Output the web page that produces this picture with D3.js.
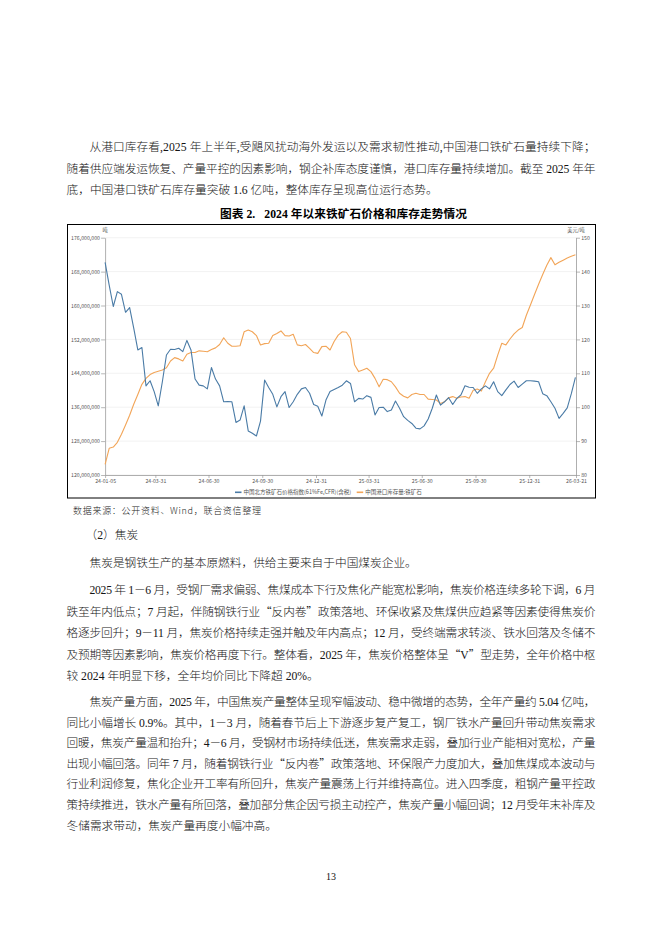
<!DOCTYPE html>
<html><head><meta charset="utf-8">
<script src="https://cdn.jsdelivr.net/npm/d3@7"></script>
<style>
html,body{margin:0;padding:0;background:#fff;}
svg{display:block;}
text{white-space:pre;}
</style></head>
<body>
<svg id="page" width="662" height="936"></svg>
<script>
// ---------------- DATA ----------------
const dates = [
"24-01-05","24-01-12","24-01-19","24-01-26","24-02-02","24-02-09","24-02-16","24-02-23",
"24-03-01","24-03-08","24-03-15","24-03-22","24-03-29","24-04-05","24-04-12","24-04-19","24-04-26",
"24-05-03","24-05-10","24-05-17","24-05-24","24-05-31","24-06-07","24-06-14","24-06-21","24-06-28",
"24-07-05","24-07-12","24-07-19","24-07-26","24-08-02","24-08-09","24-08-16","24-08-23","24-08-30",
"24-09-06","24-09-13","24-09-20","24-09-27","24-10-04","24-10-11","24-10-18","24-10-25",
"24-11-01","24-11-08","24-11-15","24-11-22","24-11-29","24-12-06","24-12-13","24-12-20","24-12-27",
"25-01-03","25-01-10","25-01-17","25-01-24","25-01-31","25-02-07","25-02-14","25-02-21","25-02-28",
"25-03-07","25-03-14","25-03-21","25-03-28","25-04-04","25-04-11","25-04-18","25-04-25",
"25-05-02","25-05-09","25-05-16","25-05-23","25-05-30","25-06-06","25-06-13","25-06-20","25-06-27",
"25-07-04","25-07-11","25-07-18","25-07-25","25-08-01","25-08-08","25-08-15","25-08-22","25-08-29",
"25-09-05","25-09-12","25-09-19","25-09-26","25-10-03","25-10-10","25-10-17","25-10-24","25-10-31",
"25-11-07","25-11-14","25-11-21","25-11-28","25-12-05","25-12-12","25-12-19","25-12-26",
"26-01-02","26-01-09","26-01-16","26-01-23","26-01-30","26-02-06","26-02-13","26-02-20","26-02-27",
"26-03-06","26-03-13","26-03-20"];

// 中国北方铁矿石价格指数 (美元/吨, right axis)
const priceIndex = [
142.7,136.0,129.7,134.1,133.3,128.0,129.4,123.3,116.9,117.6,
106.3,107.8,104.6,100.4,107.5,115.4,117.1,117.0,117.4,116.4,
119.7,116.9,108.3,106.5,106.3,105.4,111.7,108.3,106.3,101.6,
101.7,101.6,95.5,96.2,100.4,93.0,92.3,91.5,95.9,108.0,
105.8,103.8,100.1,103.1,104.6,99.9,101.6,103.8,105.4,105.8,
104.1,100.8,100.3,97.4,102.1,104.6,105.2,105.8,106.5,107.8,
107.0,101.6,102.6,102.4,103.4,102.9,97.7,99.9,100.0,98.7,
99.2,101.8,99.7,97.2,96.1,95.2,93.8,93.6,94.5,96.5,
99.7,103.6,100.6,101.6,102.8,100.8,102.6,103.6,106.3,105.9,
105.8,104.1,105.4,106.3,105.4,107.5,104.6,103.4,105.1,106.7,
107.7,105.8,106.8,107.8,107.8,107.7,107.5,104.0,103.4,101.6,
99.7,96.7,98.2,99.8,104.0,108.8];

// 中国港口库存量:铁矿石 (百万吨, left axis in 吨)
const portStock = [
122.5,126.3,126.6,127.7,129.6,131.8,134.1,136.7,139.0,141.4,
142.8,143.7,144.2,144.5,144.8,145.3,146.9,147.7,147.4,146.9,
148.5,148.9,148.9,149.3,149.2,149.1,149.6,150.0,150.8,152.4,
151.1,150.4,150.4,150.5,153.8,154.2,153.8,152.9,150.7,151.0,
151.1,152.9,153.4,154.0,152.9,152.8,153.2,150.7,150.5,150.8,
149.9,148.9,148.7,150.3,150.4,149.5,151.5,153.0,153.8,153.7,
152.2,146.0,144.4,144.8,145.2,144.4,142.8,140.8,142.6,142.5,
142.0,140.8,139.3,138.6,138.2,139.0,139.3,139.0,139.0,137.9,
137.8,137.7,136.9,137.3,138.2,138.5,138.1,138.4,138.5,138.1,
140.0,140.3,139.8,142.0,144.0,145.2,148.3,151.1,150.7,152.1,
153.3,154.2,154.8,157.7,160.1,162.6,165.0,167.3,169.5,171.3,
169.6,170.2,170.7,171.2,171.6,172.0];

const leftTicks = [120000000,128000000,136000000,144000000,152000000,160000000,168000000,176000000];
const rightTicks = [80,90,100,110,120,130,140,150];
const xTickLabels = ["24-01-05","24-03-31","24-06-30","24-09-30","24-12-31","25-03-31","25-06-30","25-09-30","25-12-31","26-03-21"];
const seriesNames = ["中国北方铁矿石价格指数(61%Fe,CFR)(含税)","中国港口库存量:铁矿石"];
const seriesColors = ["#4a7ba6","#f2a558"];

// ---------------- PAGE TEXT ----------------
const svg = d3.select("#page");
svg.append("rect").attr("width",662).attr("height",936).attr("fill","#fff");

const BODY = "'Liberation Serif','Noto Sans CJK SC',serif";
const CJK = "'Noto Sans CJK SC',sans-serif";
const FS = 11.7;
const L = 66.5, R = 595.5, IND = 89.5;

// [text, x, baselineY, justify]
const lines = [
 ["从港口库存看,2025 年上半年,受飓风扰动海外发运以及需求韧性推动,中国港口铁矿石量持续下降；", IND, 151, true],
 ["随着供应端发运恢复、产量平控的因素影响，钢企补库态度谨慎，港口库存量持续增加。截至 2025 年年", L, 172.5, true],
 ["底，中国港口铁矿石库存量突破 1.6 亿吨，整体库存呈现高位运行态势。", L, 194, false],
 ["（2）焦炭", IND-4, 539, false],
 ["焦炭是钢铁生产的基本原燃料，供给主要来自于中国煤炭企业。", IND, 566.5, false],
 ["2025 年 1－6 月，受钢厂需求偏弱、焦煤成本下行及焦化产能宽松影响，焦炭价格连续多轮下调，6 月", IND, 594, true],
 ["跌至年内低点；7 月起，伴随钢铁行业“反内卷”政策落地、环保收紧及焦煤供应趋紧等因素使得焦炭价", L, 615.5, true],
 ["格逐步回升；9－11 月，焦炭价格持续走强并触及年内高点；12 月，受终端需求转淡、铁水回落及冬储不", L, 637, true],
 ["及预期等因素影响，焦炭价格再度下行。整体看，2025 年，焦炭价格整体呈“V”型走势，全年价格中枢", L, 658.5, true],
 ["较 2024 年明显下移，全年均价同比下降超 20%。", L, 680, false],
 ["焦炭产量方面，2025 年，中国焦炭产量整体呈现窄幅波动、稳中微增的态势，全年产量约 5.04 亿吨，", IND, 706, true],
 ["同比小幅增长 0.9%。其中，1－3 月，随着春节后上下游逐步复产复工，钢厂铁水产量回升带动焦炭需求", L, 726.6, true],
 ["回暖，焦炭产量温和抬升；4－6 月，受钢材市场持续低迷，焦炭需求走弱，叠加行业产能相对宽松，产量", L, 747.2, true],
 ["出现小幅回落。同年 7 月，随着钢铁行业“反内卷”政策落地、环保限产力度加大，叠加焦煤成本波动与", L, 767.8, true],
 ["行业利润修复，焦化企业开工率有所回升，焦炭产量震荡上行并维持高位。进入四季度，粗钢产量平控政", L, 788.4, true],
 ["策持续推进，铁水产量有所回落，叠加部分焦企因亏损主动控产，焦炭产量小幅回调；12 月受年末补库及", L, 809, true],
 ["冬储需求带动，焦炭产量再度小幅冲高。", L, 829.6, false]
];
lines.forEach(([t, x, y, j]) => {
  const el = svg.append("text").attr("x", x).attr("y", y)
    .attr("font-family", BODY).attr("font-size", FS).attr("font-weight", 300).attr("fill", "#141414");
  // curly quotes rendered with the CJK face (full width), the rest with the body face
  t.split(/([“”])/).forEach(part => {
    if (!part) return;
    const ts = el.append("tspan").text(part);
    if (part === "“" || part === "”") ts.attr("font-family", CJK);
  });
  if (j) el.attr("textLength", R - x).attr("lengthAdjust", "spacing");
});

// title
svg.append("text").attr("x", 220).attr("y", 217.5)
  .attr("font-family", BODY).attr("font-size", FS).attr("font-weight", "bold").attr("fill", "#000")
  .attr("textLength", 247).attr("lengthAdjust", "spacing")
  .text("图表 2.   2024 年以来铁矿石价格和库存走势情况");

// source
svg.append("text").attr("x", 73).attr("y", 513.5)
  .attr("font-family", CJK).attr("font-size", 9).attr("font-weight", 300).attr("fill", "#222")
  .attr("textLength", 188).attr("lengthAdjust", "spacing")
  .text("数据来源：公开资料、Wind，联合资信整理");

// page number
svg.append("text").attr("x", 331).attr("y", 879.5).attr("text-anchor", "middle")
  .attr("font-family", BODY).attr("font-size", 10).attr("fill", "#111").text("13");

// ---------------- CHART ----------------
svg.append("rect").attr("x", 67.5).attr("y", 224.5).attr("width", 528).attr("height", 273.5)
  .attr("fill", "none").attr("stroke", "#000").attr("stroke-width", 1);

const parse = d3.timeParse("%y-%m-%d");
const fmt = d3.timeFormat("%y-%m-%d");
const X0 = 105.1, X1 = 576, YT = 237.7, YB = 475;
const x = d3.scaleTime().domain([parse(xTickLabels[0]), parse(xTickLabels[xTickLabels.length-1])]).range([X0, X1]);
const yL = d3.scaleLinear().domain([leftTicks[0], leftTicks[leftTicks.length-1]]).range([YB, YT]);
const yR = d3.scaleLinear().domain([rightTicks[0], rightTicks[rightTicks.length-1]]).range([YB, YT]);

const CF = "'Noto Sans CJK SC','Liberation Sans',sans-serif";
const g = svg.append("g");

// gridlines
g.selectAll("line.grid").data(leftTicks).join("line").attr("class","grid")
  .attr("x1", X0).attr("x2", X1).attr("y1", d => yL(d)).attr("y2", d => yL(d))
  .attr("stroke", "#ececec").attr("stroke-width", 0.7);

function styleAxis(sel) {
  sel.select(".domain").attr("stroke", "#9a9a9a").attr("stroke-width", 0.8);
  sel.selectAll(".tick line").attr("stroke", "#9a9a9a").attr("stroke-width", 0.7);
  sel.selectAll(".tick text").attr("fill", "#555").attr("font-size", 5.2).attr("font-family", CF);
}

g.append("g").attr("transform", `translate(${X0},0)`)
  .call(d3.axisLeft(yL).tickValues(leftTicks).tickFormat(d3.format(",")).tickSize(4).tickSizeOuter(0).tickPadding(1.2))
  .call(styleAxis);
g.append("g").attr("transform", `translate(${X1},0)`)
  .call(d3.axisRight(yR).tickValues(rightTicks).tickFormat(d3.format("d")).tickSize(4).tickSizeOuter(0).tickPadding(1.2))
  .call(styleAxis);
g.append("g").attr("transform", `translate(0,${YB})`)
  .call(d3.axisBottom(x).tickValues(xTickLabels.map(parse)).tickFormat(fmt).tickSize(3).tickSizeOuter(0).tickPadding(1.5))
  .call(styleAxis);

// unit labels
g.append("text").attr("x", X0).attr("y", 231.5).attr("text-anchor","middle")
  .attr("font-size", 5.2).attr("font-family", CF).attr("fill", "#555").text("吨");
g.append("text").attr("x", X1).attr("y", 231.5).attr("text-anchor","middle")
  .attr("font-size", 5.2).attr("font-family", CF).attr("fill", "#555").text("美元/吨");

const dDates = dates.map(parse);
const linePrice = d3.line().x((d,i) => x(dDates[i])).y(d => yR(d));
const lineStock = d3.line().x((d,i) => x(dDates[i])).y(d => yL(d * 1e6));

g.append("path").datum(portStock).attr("d", lineStock)
  .attr("fill","none").attr("stroke", seriesColors[1]).attr("stroke-width", 1.1).attr("stroke-linejoin","round");
g.append("path").datum(priceIndex).attr("d", linePrice)
  .attr("fill","none").attr("stroke", seriesColors[0]).attr("stroke-width", 1.1).attr("stroke-linejoin","round");

// legend
const legX = [235, 356.7];
seriesNames.forEach((n, i) => {
  g.append("line").attr("x1", legX[i]).attr("x2", legX[i] + 6.5).attr("y1", 492.3).attr("y2", 492.3)
    .attr("stroke", seriesColors[i]).attr("stroke-width", 1.6);
  g.append("text").attr("x", legX[i] + 8.5).attr("y", 494.3)
    .attr("font-size", 5.5).attr("font-family", CF).attr("fill", "#555").text(n);
});
</script>
</body></html>
